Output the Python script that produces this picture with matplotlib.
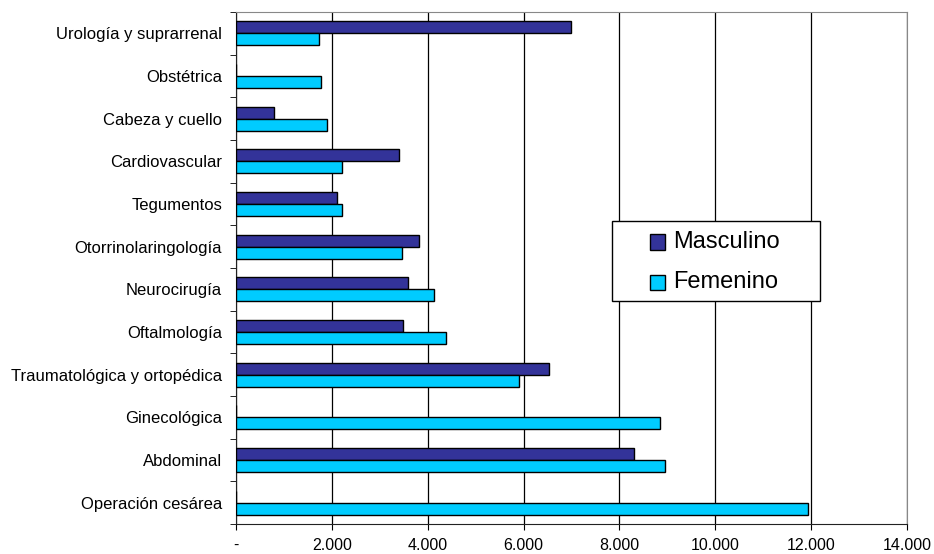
import numpy as np
import matplotlib.pyplot as plt
from matplotlib.ticker import FuncFormatter
from matplotlib.patches import Rectangle

plt.rcParams['font.family'] = ['Liberation Sans', 'DejaVu Sans']

# categorias de abajo hacia arriba
categorias = ['Operación cesárea', 'Abdominal', 'Ginecológica',
              'Traumatológica y ortopédica', 'Oftalmología', 'Neurocirugía',
              'Otorrinolaringología', 'Tegumentos', 'Cardiovascular',
              'Cabeza y cuello', 'Obstétrica', 'Urología y suprarrenal']
masculino = [0, 8310, 0, 6525, 3485, 3597, 3812, 2108, 3402, 786, 0, 6998]
femenino = [11924, 8947, 8854, 5900, 4383, 4139, 3457, 2219, 2205, 1899, 1781, 1725]
series = [('Masculino', '#333399'), ('Femenino', '#00CCFF')]

W, H = 934, 554
fig = plt.figure(figsize=(W / 100, H / 100), dpi=100)
ax = fig.add_axes([236 / W, 1 - 524 / H, (907 - 236) / W, (524 - 12) / H])

y = np.arange(len(categorias))
h = 0.28
ax.barh(y + h / 2, masculino, height=h, color=series[0][1], edgecolor='black',
        linewidth=1, zorder=3)
ax.barh(y - h / 2, femenino, height=h, color=series[1][1], edgecolor='black',
        linewidth=1, zorder=3)

ax.set_xlim(0, 14000)
ax.set_ylim(-0.5, len(categorias) - 0.5)
ax.set_xticks(np.arange(0, 14001, 2000))
ax.xaxis.set_major_formatter(FuncFormatter(
    lambda v, p: '-' if v == 0 else f'{v:,.0f}'.replace(',', '.')))
ax.set_yticks(y)
ax.set_yticklabels(categorias)
ax.set_yticks(np.arange(-0.5, len(categorias)), minor=True)

ax.tick_params(axis='y', which='major', length=0, pad=10, labelsize=12)
ax.tick_params(axis='y', which='minor', length=4, direction='out')
ax.tick_params(axis='x', length=4, direction='out', pad=6, labelsize=11.5)

ax.grid(axis='x', color='black', linewidth=0.9, zorder=0)
for s in ['top', 'right']:
    ax.spines[s].set_color('#888888')
for s in ['left', 'bottom']:
    ax.spines[s].set_color('#222222')

# leyenda dibujada a mano en pixeles de la figura
def fx(px):
    return px / W

def fy(py):
    return 1 - py / H

fig.patches.append(Rectangle((fx(612), fy(301)), 208 / W, 80 / H,
                             transform=fig.transFigure, facecolor='white',
                             edgecolor='black', linewidth=1, zorder=5))
for i, (nombre, color) in enumerate(series):
    cy = 242 + 40 * i
    fig.patches.append(Rectangle((fx(650), fy(cy + 7.5)), 15 / W, 15 / H,
                                 transform=fig.transFigure, facecolor=color,
                                 edgecolor='black', linewidth=1, zorder=6))
    fig.text(fx(673), fy(cy), nombre, fontsize=17, va='center', ha='left',
             zorder=6)

fig.savefig('out.png', dpi=100)
